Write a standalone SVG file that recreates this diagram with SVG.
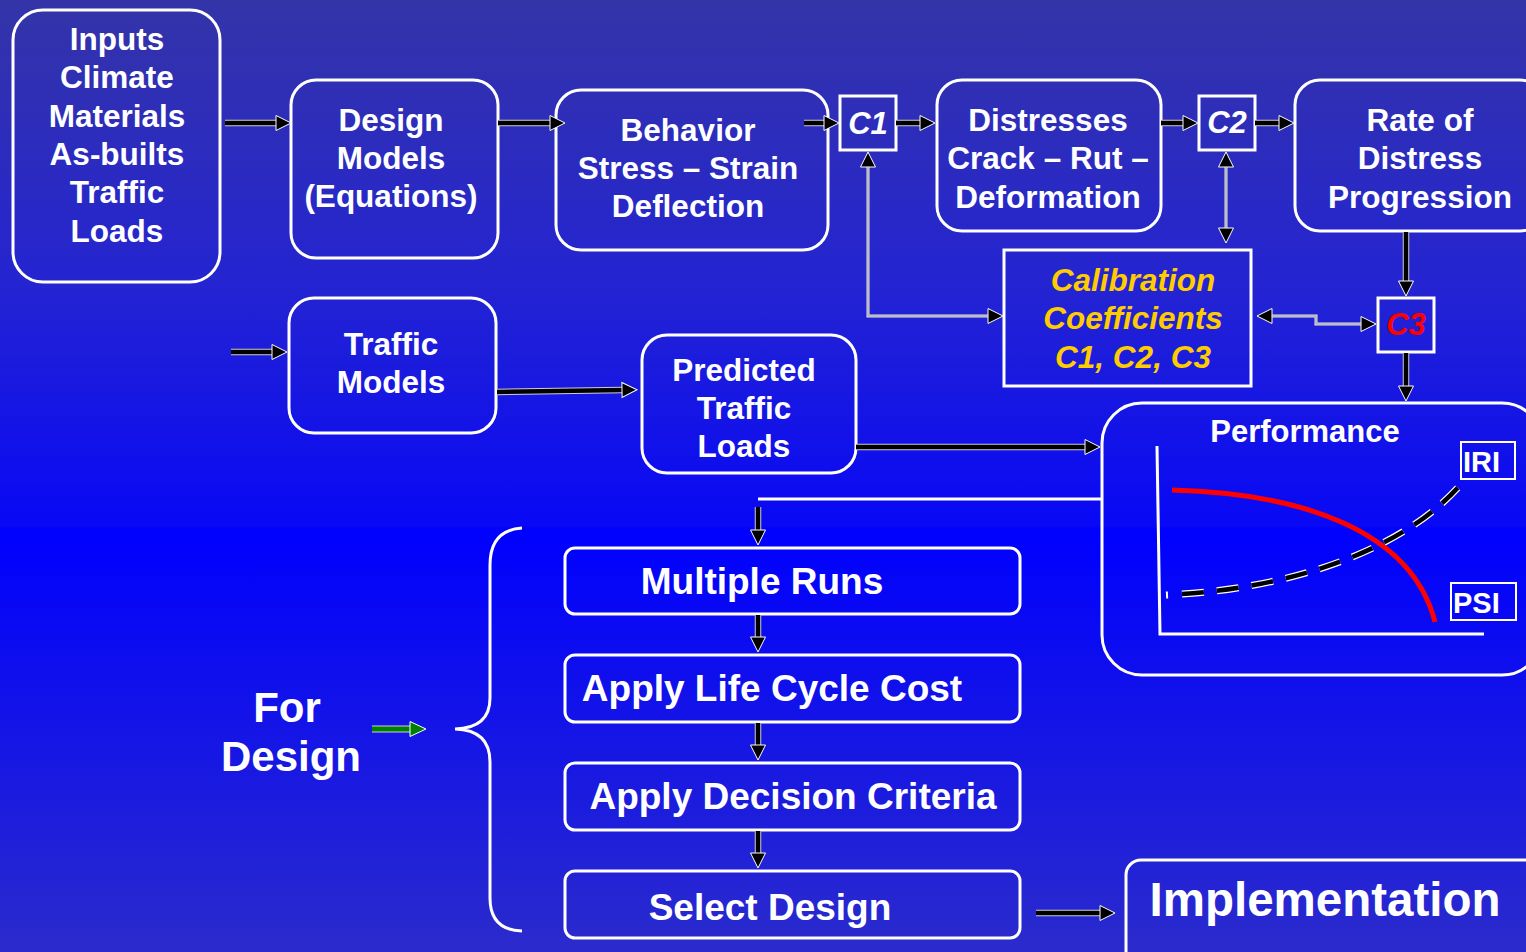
<svg xmlns="http://www.w3.org/2000/svg" width="1526" height="952" viewBox="0 0 1526 952">
  <defs>
    <linearGradient id="bg" x1="0" y1="0" x2="0" y2="1">
      <stop offset="0" stop-color="#3434A8"/>
      <stop offset="0.3" stop-color="#2424D2"/>
      <stop offset="0.552" stop-color="#0808F6"/>
      <stop offset="0.556" stop-color="#0000FF"/>
      <stop offset="1" stop-color="#2B2BCC"/>
    </linearGradient>
    <marker id="head" viewBox="0 0 17 16" refX="1" refY="8" markerWidth="17" markerHeight="16" markerUnits="userSpaceOnUse" orient="auto-start-reverse" overflow="visible">
      <path d="M0,0.5 L15,8 L0,15.5 Z" fill="#000" stroke="#fff" stroke-width="1"/>
    </marker>
    <marker id="headG" viewBox="0 0 17 16" refX="1" refY="8" markerWidth="17" markerHeight="16" markerUnits="userSpaceOnUse" orient="auto" overflow="visible">
      <path d="M0,0.5 L16,8 L0,15.5 Z" fill="#008000" stroke="#fff" stroke-width="1"/>
    </marker>
  </defs>
  <style>
    text { font-family: "Liberation Sans", Arial, sans-serif; font-weight: bold; fill: #fff; }
    .box { fill: none; stroke: #fff; stroke-width: 3; }
    .t31 { font-size: 31.5px; text-anchor: middle; }
    .cal { font-size: 31.5px; text-anchor: middle; font-style: italic; fill: #FFCC00; }
    .coef { font-size: 31px; text-anchor: middle; font-style: italic; }
    .step { font-size: 37px; text-anchor: middle; }
    .out { fill: none; stroke: #cfcfcf; stroke-width: 6.5; }
    .shaft { fill: none; stroke: #000; stroke-width: 4.5; marker-end: url(#head); }
    .thin { fill: none; stroke: #e4e4e4; stroke-width: 3; marker-start: url(#head); marker-end: url(#head); }
    .thin-in { fill: none; stroke: #999; stroke-width: 1; }
  </style>

  <rect x="0" y="0" width="1526" height="952" fill="url(#bg)"/>

  <g id="inputs">
    <rect class="box" x="13" y="10" width="207" height="272" rx="30"/>
    <text class="t31" x="117"><tspan x="117" y="50">Inputs</tspan><tspan x="117" y="88">Climate</tspan><tspan x="117" y="127">Materials</tspan><tspan x="117" y="165">As-builts</tspan><tspan x="117" y="203">Traffic</tspan><tspan x="117" y="242">Loads</tspan></text>
  </g>

  <g id="design-models">
    <rect class="box" x="291" y="80" width="207" height="178" rx="25"/>
    <text class="t31"><tspan x="391" y="131">Design</tspan><tspan x="391" y="169">Models</tspan><tspan x="391" y="207">(Equations)</tspan></text>
  </g>

  <g id="behavior">
    <rect class="box" x="556" y="90" width="272" height="160" rx="25"/>
    <text class="t31"><tspan x="688" y="141">Behavior</tspan><tspan x="688" y="179">Stress – Strain</tspan><tspan x="688" y="217">Deflection</tspan></text>
  </g>

  <g id="c1">
    <rect class="box" x="840" y="96" width="56" height="54"/>
    <text class="coef" x="868" y="134">C1</text>
  </g>

  <g id="distresses">
    <rect class="box" x="937" y="80" width="224" height="151" rx="25"/>
    <text class="t31"><tspan x="1048" y="131">Distresses</tspan><tspan x="1048" y="169">Crack – Rut –</tspan><tspan x="1048" y="208">Deformation</tspan></text>
  </g>

  <g id="c2">
    <rect class="box" x="1199" y="96" width="56" height="54"/>
    <text class="coef" x="1227" y="133">C2</text>
  </g>

  <g id="rate">
    <rect class="box" x="1295" y="80" width="250" height="151" rx="25"/>
    <text class="t31"><tspan x="1420" y="131">Rate of</tspan><tspan x="1420" y="169">Distress</tspan><tspan x="1420" y="208">Progression</tspan></text>
  </g>

  <g id="calibration">
    <rect class="box" x="1004" y="250" width="247" height="136"/>
    <text class="cal"><tspan x="1133" y="291">Calibration</tspan><tspan x="1133" y="329">Coefficients</tspan><tspan x="1133" y="368">C1, C2, C3</tspan></text>
  </g>

  <g id="c3">
    <rect class="box" x="1378" y="298" width="56" height="54"/>
    <text class="coef" x="1406" y="335" style="fill:#FF0000">C3</text>
  </g>

  <g id="traffic-models">
    <rect class="box" x="289" y="298" width="207" height="135" rx="25"/>
    <text class="t31"><tspan x="391" y="355">Traffic</tspan><tspan x="391" y="393">Models</tspan></text>
  </g>

  <g id="predicted-loads">
    <rect class="box" x="642" y="335" width="214" height="138" rx="25"/>
    <text class="t31"><tspan x="744" y="381">Predicted</tspan><tspan x="744" y="419">Traffic</tspan><tspan x="744" y="457">Loads</tspan></text>
  </g>

  <g id="performance">
    <rect class="box" x="1102" y="403" width="440" height="272" rx="40"/>
    <text x="1305" y="442" style="font-size:31px;text-anchor:middle">Performance</text>
    <!-- axes -->
    <path d="M1157,446 L1160,634 L1484,634" fill="none" stroke="#fff" stroke-width="3"/>
    <!-- PSI curve -->
    <path d="M1172,490 C1290,493 1410,525 1435,622" fill="none" stroke="#FF0000" stroke-width="5"/>
    <!-- IRI curve -->
    <path d="M1166,595 C1280,590 1400,555 1462,483" fill="none" stroke="#fff" stroke-width="7" stroke-dasharray="2 14 22 13 22 13 22 13 22 13 22 13 22 13 22 13 22 13 22 13 22 13"/>
    <path d="M1166,595 C1280,590 1400,555 1462,483" fill="none" stroke="#000" stroke-width="4.5" stroke-dasharray="0 16 22 13 22 13 22 13 22 13 22 13 22 13 22 13 22 13 22 13 22 13"/>
    <rect x="1461" y="442" width="54" height="37" fill="none" stroke="#fff" stroke-width="2"/>
    <text x="1463" y="472" style="font-size:29px">IRI</text>
    <rect x="1451" y="583" width="65" height="37" fill="none" stroke="#fff" stroke-width="2"/>
    <text x="1453" y="613" style="font-size:29px">PSI</text>
  </g>

  <g id="multiple-runs">
    <rect class="box" x="565" y="548" width="455" height="66" rx="10"/>
    <text class="step" x="762" y="594">Multiple Runs</text>
  </g>

  <g id="life-cycle-cost">
    <rect class="box" x="565" y="655" width="455" height="67" rx="10"/>
    <text class="step" x="772" y="701">Apply Life Cycle Cost</text>
  </g>

  <g id="decision-criteria">
    <rect class="box" x="565" y="763" width="455" height="67" rx="10"/>
    <text class="step" x="793" y="809">Apply Decision Criteria</text>
  </g>

  <g id="select-design">
    <rect class="box" x="565" y="871" width="455" height="67" rx="10"/>
    <text class="step" x="770" y="920">Select Design</text>
  </g>

  <g id="implementation">
    <rect class="box" x="1126" y="860" width="420" height="110" rx="15"/>
    <text x="1325" y="916" style="font-size:47.5px;text-anchor:middle">Implementation</text>
  </g>

  <g id="for-design">
    <text style="font-size:42px;text-anchor:middle"><tspan x="287" y="722">For</tspan><tspan x="291" y="771">Design</tspan></text>
    <path d="M522,528 Q490,530 490,565 L490,698 Q490,728 455,729 Q490,730 490,762 L490,898 Q490,930 522,931" fill="none" stroke="#fff" stroke-width="3"/>
  </g>

  <g id="connectors">
    <!-- thick flow arrows: light rim underneath a black shaft -->
    <path class="out" d="M225,123 L277,123"/><path class="shaft" d="M225,123 L277,123"/>
    <path class="out" d="M498,123 L551,123"/><path class="shaft" d="M498,123 L551,123"/>
    <path class="out" d="M804,123 L825,123"/><path class="shaft" d="M804,123 L825,123"/>
    <path class="out" d="M896,123 L921,123"/><path class="shaft" d="M896,123 L921,123"/>
    <path class="out" d="M1161,123 L1184,123"/><path class="shaft" d="M1161,123 L1184,123"/>
    <path class="out" d="M1255,123 L1280,123"/><path class="shaft" d="M1255,123 L1280,123"/>
    <path class="out" d="M1406,232 L1406,282"/><path class="shaft" d="M1406,232 L1406,282"/>
    <path class="out" d="M1406,353 L1406,387"/><path class="shaft" d="M1406,353 L1406,387"/>
    <path class="out" d="M231,352 L273,352"/><path class="shaft" d="M231,352 L273,352"/>
    <path class="out" d="M497,392 L623,390"/><path class="shaft" d="M497,392 L623,390"/>
    <path class="out" d="M856,447 L1086,447"/><path class="shaft" d="M856,447 L1086,447"/>
    <path class="out" d="M758,507 L758,531"/><path class="shaft" d="M758,507 L758,531"/>
    <path class="out" d="M758,615 L758,638"/><path class="shaft" d="M758,615 L758,638"/>
    <path class="out" d="M758,723 L758,746"/><path class="shaft" d="M758,723 L758,746"/>
    <path class="out" d="M758,831 L758,854"/><path class="shaft" d="M758,831 L758,854"/>
    <path class="out" d="M1036,913 L1101,913"/><path class="shaft" d="M1036,913 L1101,913"/>
    <!-- feed line from the performance panel -->
    <path d="M758,499 L1102,499" fill="none" stroke="#fff" stroke-width="3"/>
    <!-- green arrow -->
    <path d="M372,729 L411,729" fill="none" stroke="#cfcfcf" stroke-width="7"/>
    <path d="M372,729 L411,729" fill="none" stroke="#008000" stroke-width="5" marker-end="url(#headG)"/>
    <!-- calibration links (double-headed) -->
    <path class="thin" d="M868,166 L868,316 L989,316"/>
    <path class="thin-in" d="M868,166 L868,316 L989,316"/>
    <path class="thin" d="M1226,166 L1226,229"/>
    <path class="thin-in" d="M1226,166 L1226,229"/>
    <path class="thin" d="M1271,316 L1316,316 L1316,324 L1362,324"/>
    <path class="thin-in" d="M1271,316 L1316,316 L1316,324 L1362,324"/>
  </g>
</svg>
